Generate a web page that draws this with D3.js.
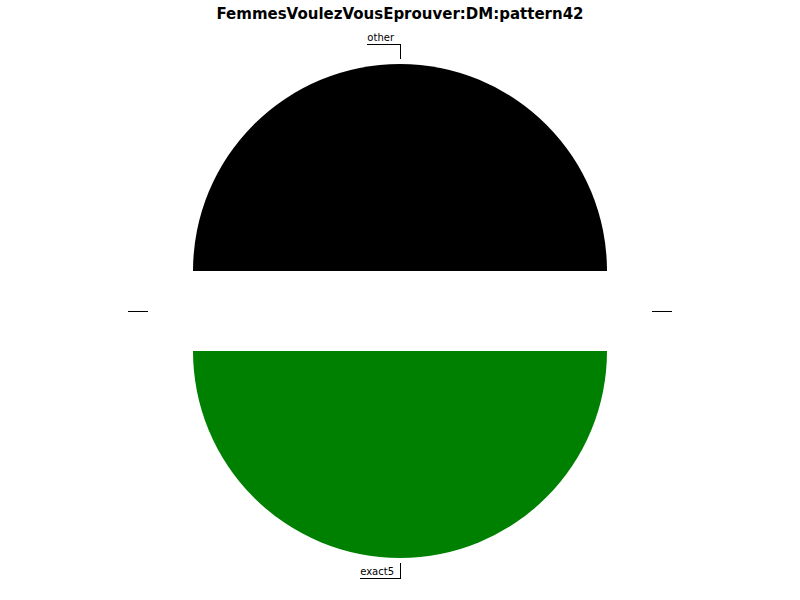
<!DOCTYPE html>
<html>
<head>
<meta charset="utf-8">
<script src="https://cdn.jsdelivr.net/npm/d3@7"></script>
<style>
  body { margin: 0; background: #fff; }
  text { font-family: "DejaVu Sans", sans-serif; }
</style>
</head>
<body>
<div id="container"></div>
<script>
// slices in drawing order (counter-clockwise from 3 o'clock)
var labels = ["other", "", "exact5", ""];
var values = [1, 0, 1, 0];
var colors = ["#000000", "#1f77b4", "#008000", "#d62728"];

var width = 800, height = 600,
    cx = 400, cy = 311,
    radius = 207,
    explode = 40;

var svg = d3.select("#container").append("svg")
    .attr("width", width)
    .attr("height", height);

svg.append("text")
    .attr("x", width / 2)
    .attr("y", 19)
    .attr("text-anchor", "middle")
    .style("font-size", "15px")
    .style("font-weight", "bold")
    .text("FemmesVoulezVousEprouver:DM:pattern42");

var pie = d3.pie()
    .sort(null)
    .value(function(d) { return d; })
    .startAngle(Math.PI / 2)
    .endAngle(Math.PI / 2 - 2 * Math.PI);

var arc = d3.arc().innerRadius(0).outerRadius(radius);

var slices = pie(values).map(function(d, i) {
    var m = (d.startAngle + d.endAngle) / 2;
    d.mid = m;
    d.label = labels[i];
    d.color = colors[i];
    d.ox = Math.sin(m) * explode;
    d.oy = -Math.cos(m) * explode;
    return d;
});

var g = svg.append("g")
    .attr("transform", "translate(" + cx + "," + cy + ")");

var slice = g.selectAll("g.slice")
    .data(slices)
  .enter().append("g")
    .attr("class", "slice")
    .attr("transform", function(d) { return "translate(" + d.ox + "," + d.oy + ")"; });

slice.filter(function(d) { return d.value > 0; })
  .append("path")
    .attr("d", arc)
    .style("fill", function(d) { return d.color; });

// labels with elbow leader lines
slice.each(function(d) {
    var sel = d3.select(this);
    var s = Math.sin(d.mid), c = -Math.cos(d.mid);
    var r1 = radius + 5, r2 = radius + 20;
    var x1 = Math.round(s * r1), y1 = Math.round(c * r1),
        x2 = Math.round(s * r2), y2 = Math.round(c * r2);
    var dir = s > 0.5 ? 1 : -1;

    var txt = sel.append("text")
        .attr("x", x2 + dir * 6)
        .attr("y", y2 - 3)
        .attr("text-anchor", dir > 0 ? "start" : "end")
        .style("font-size", "10px")
        .text(d.label);
    var w = d.label ? txt.node().getComputedTextLength() + 6 : 5;

    sel.append("polyline")
        .attr("points", [[x1, y1], [x2, y2], [x2 + dir * w, y2]].map(function(p) { return p.join(","); }).join(" "))
        .style("fill", "none")
        .style("stroke", "#000")
        .style("stroke-width", 1)
        .style("shape-rendering", "crispEdges");
});
</script>
</body>
</html>
